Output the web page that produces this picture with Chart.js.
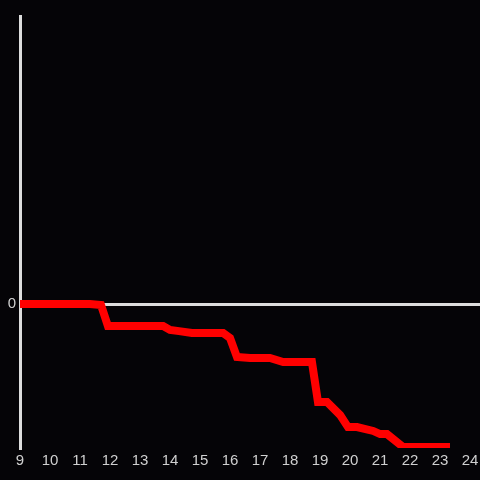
<!DOCTYPE html>
<html>
<head>
  <title>Step line</title>
  <script src="https://cdn.jsdelivr.net/npm/chart.js"></script>
  <style>
    body { margin: 0; background: #050407; }
  </style>
</head>
<body>
  <canvas id="myChart" width="480" height="480"></canvas>
  <script>
// values
const hours = [9, 11.33, 11.7, 11.93, 13.77, 14.0, 14.3, 14.73, 15.77, 16.0, 16.23, 16.67, 17.33, 17.77, 18.73, 18.93, 19.23, 19.67, 19.93, 20.23, 20.77, 21.0, 21.23, 21.77, 23.33];
const values = [0, 0, -0.04, -0.92, -0.92, -1.08, -1.13, -1.21, -1.21, -1.42, -2.21, -2.25, -2.25, -2.42, -2.42, -4.08, -4.08, -4.63, -5.13, -5.13, -5.29, -5.42, -5.42, -5.96, -5.96];
const xTicks = [9, 10, 11, 12, 13, 14, 15, 16, 17, 18, 19, 20, 21, 22, 23, 24];
const yTicks = [0];

const points = hours.map((h, i) => ({ x: h, y: values[i] }));

const ctx = document.getElementById('myChart').getContext('2d');
const myChart = new Chart(ctx, {
  type: 'line',
  data: {
    datasets: [{
      data: points,
      borderColor: '#ff0000',
      borderWidth: 8,
      pointRadius: 0,
      tension: 0,
      borderJoinStyle: 'miter'
    }]
  },
  options: {
    responsive: false,
    animation: false,
    layout: { padding: { top: 16, right: 0, left: 0, bottom: 0 } },
    plugins: { legend: { display: false }, tooltip: { enabled: false } },
    scales: {
      x: {
        type: 'linear',
        min: 9,
        max: 24.33,
        afterBuildTicks: (scale) => { scale.ticks = xTicks.map(v => ({ value: v })); },
        afterFit: (scale) => { scale.height = 32; scale.paddingRight = 0; scale.paddingLeft = 0; },
        grid: { display: false, drawTicks: false },
        border: { display: false },
        ticks: { color: '#d0d0d0', padding: 4, maxRotation: 0, autoSkip: false, font: { family: 'Liberation Sans', size: 15 } }
      },
      y: {
        type: 'linear',
        min: -6,
        max: 12,
        afterBuildTicks: (scale) => { scale.ticks = yTicks.map(v => ({ value: v })); },
        afterFit: (scale) => { scale.width = 20; },
        grid: { color: '#dddddd', lineWidth: 3, drawTicks: false },
        border: { display: true, color: '#dddddd', width: 3 },
        ticks: { color: '#d0d0d0', padding: 4, font: { family: 'Liberation Sans', size: 15 } }
      }
    }
  }
});
  </script>
</body>
</html>
